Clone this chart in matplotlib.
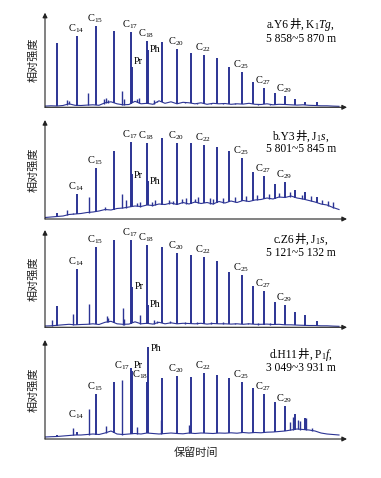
import numpy as np
import matplotlib
matplotlib.use("Agg")
import matplotlib.pyplot as plt

plt.rcParams['mathtext.fontset'] = 'custom'
plt.rcParams['mathtext.rm'] = 'Liberation Serif'
plt.rcParams['mathtext.it'] = 'Liberation Serif:italic'

W, H = 381, 478
col = '#2c3494'

# retention positions of the n-alkanes / isoprenoids (arbitrary time units)
peak_names = ['C13', 'C14', 'C15', 'C16', 'C17', 'Pr', 'C18', 'Ph', 'C19', 'C20', 'C21',
              'C22', 'C23', 'C24', 'C25', 'C26', 'C27', 'C28', 'C29', 'C30', 'C31', 'C32']
peak_rt = [12.3, 32.3, 50.7, 68.7, 85.7, 87.3, 101.7, 103.0, 117.0, 131.7, 146.0,
           159.0, 172.0, 184.3, 196.7, 207.7, 218.7, 229.7, 240.0, 250.0, 260.3, 271.7]

# peak heights (relative intensity) per sample
h_a = [64, 71.3, 81.3, 76.3, 75, 40, 66.7, 57, 65, 58.7, 54,
       52.3, 49, 40.3, 35, 25.3, 19, 14.3, 11.7, 8.3, 5.7, 5.3]
h_b = [5.7, 25, 51.3, 68, 77.3, 44.7, 75.7, 38.3, 81.3, 75.7, 75.7,
       74, 71.7, 68, 60.7, 47.3, 43, 35, 37.3, 29, 26.7, 22]
h_c = [21.3, 58.3, 80.7, 87.3, 87.3, 40.7, 82.3, 22.3, 80.7, 74, 72.3,
       70.7, 66.7, 55.7, 52.3, 41.3, 36.3, 25.7, 22.3, 15.7, 12.3, 6.3]
h_d = [4, 7.3, 44.7, 57.3, 70.7, 68, 57.3, 92.3, 60.7, 63.3, 62.3,
       65.7, 64, 61.3, 57.3, 50.7, 44.7, 37.3, 33.3, 25, 21.3, 7.3]

# unlabelled minor peaks (rt, height)
minor_a = [(22, 7), (24, 6), (42.7, 14), (59, 8), (61, 9), (63, 7), (76.7, 16), (79, 8),
           (92, 8), (94, 9), (109, 7), (112, 6), (125, 5), (140, 5), (152, 4.5), (166, 4),
           (178, 4), (190, 4), (200, 3.5), (213, 3.5), (225, 3.5)]
minor_b = [(22, 9), (27.7, 6), (43.7, 22.3), (60.3, 12), (77, 24.7), (81, 19), (91.7, 15.7),
           (95, 17), (107, 17), (110, 19), (124, 19), (128, 18), (137, 20), (141, 21),
           (150, 20), (153, 22), (165, 21), (168, 20), (178, 21), (190, 22), (201, 23),
           (212, 24), (224, 25), (234, 26), (245, 27), (256.7, 24), (266, 23), (276.7, 19),
           (283, 18), (288.3, 17.3)]
minor_c = [(6.7, 7.3), (27.7, 13), (43.7, 23.3), (61.7, 11.3), (63, 9), (77.7, 19), (79, 8),
           (95, 12.3), (109, 7), (112, 6), (125, 6), (140, 5.5), (152, 5), (166, 5), (178, 5),
           (190, 4.5), (203, 4.5), (213, 4), (225, 4)]
minor_d = [(27.7, 10.7), (43.7, 30), (61, 13.3), (77.3, 59), (91.7, 12), (116, 19), (144, 14),
           (245, 17.3), (247.7, 22.3), (253.3, 19), (255, 18), (261, 21.3), (266.7, 10.7)]

# baseline read every 6 time units
base_x = np.arange(0, 300, 6)
base_a = [1.2, 1.5, 1.3, 1.8, 3.5, 2.0, 1.8, 2.2, 2.5, 2.0, 4.5, 5.5, 3.5, 2.5, 2.8, 6.0, 3.5,
          4.0, 3.0, 6.5, 4.0, 5.5, 3.5, 5.0, 4.5, 3.5, 4.5, 3.0, 4.0, 3.5, 3.8, 3.0, 3.5, 3.2,
          4.0, 3.0, 2.8, 3.5, 2.5, 3.0, 2.8, 2.5, 2.2, 2.5, 2.0, 1.8, 1.5, 1.5, 1.2, 1.0]
base_b = [1.5, 2.0, 2.5, 3.0, 4.5, 5.0, 5.5, 6.5, 7.0, 8.0, 9.5, 9.0, 10.5, 11.0, 12.0, 13.0,
          12.5, 14.0, 13.5, 15.0, 14.5, 16.0, 14.5, 16.5, 15.0, 17.0, 15.5, 16.5, 15.0, 17.5,
          16.0, 18.0, 16.5, 18.5, 17.5, 19.0, 19.5, 21.0, 20.0, 22.0, 21.5, 23.0, 21.0, 20.0,
          18.5, 17.0, 15.0, 14.0, 11.5, 9.5]
base_c = [1.3, 1.5, 2.0, 2.5, 3.0, 2.5, 2.8, 3.0, 3.5, 2.8, 5.0, 6.0, 3.5, 3.0, 3.2, 5.5, 3.5,
          4.0, 3.2, 5.0, 3.5, 4.5, 3.5, 4.0, 3.8, 3.5, 4.0, 3.2, 3.8, 3.5, 3.5, 3.2, 3.5, 3.0,
          3.5, 3.0, 3.0, 3.2, 2.8, 3.0, 2.5, 2.5, 2.2, 2.0, 1.8, 1.8, 1.5, 1.5, 1.2, 1.0]
base_d = [2.0, 2.3, 2.5, 3.0, 3.5, 4.0, 4.0, 4.5, 5.0, 4.5, 6.0, 8.0, 5.0, 4.5, 5.0, 5.5, 5.0,
          6.0, 5.5, 5.0, 5.5, 6.0, 5.5, 5.2, 6.0, 5.5, 6.0, 5.8, 5.5, 6.0, 5.8, 6.2, 5.8, 6.5,
          6.0, 6.5, 6.2, 6.8, 7.0, 7.5, 8.0, 9.0, 10.0, 9.5, 9.0, 8.0, 6.0, 5.0, 4.5, 4.0]

labelled = ['C14', 'C15', 'C17', 'C18', 'C20', 'C22', 'C25', 'C27', 'C29', 'Pr', 'Ph']

info1 = [[('a.Y6', 'Liberation Serif'), ('井', 'Noto Sans CJK SC'), (', K$_1$$Tg$,', 'Liberation Serif')],
         [('b.Y3', 'Liberation Serif'), ('井', 'Noto Sans CJK SC'), (', J$_1$$s$,', 'Liberation Serif')],
         [('c.Z6', 'Liberation Serif'), ('井', 'Noto Sans CJK SC'), (', J$_1$$s$,', 'Liberation Serif')],
         [('d.H11', 'Liberation Serif'), ('井', 'Noto Sans CJK SC'), (', P$_1$$f$,', 'Liberation Serif')]]
info2 = ['5 858~5 870 m', '5 801~5 845 m', '5 121~5 132 m', '3 049~3 931 m']

panels = [
    dict(h=h_a, minor=minor_a, base=base_a, bot=107.3, top=12.7, t1=28, t2=42,
         special={'Pr': (88.3, 45.7, 'left', 'center'), 'Ph': (104.5, 58, 'left', 'center')}),
    dict(h=h_b, minor=minor_b, base=base_b, bot=219.0, top=120.0, t1=139.5, t2=152.5,
         special={'Pr': (88.8, 43, 'left', 'center'), 'Ph': (104.5, 38, 'left', 'center')}),
    dict(h=h_c, minor=minor_c, base=base_c, bot=327.3, top=230.0, t1=243, t2=256,
         special={'Pr': (89.5, 40.7, 'left', 'center'), 'Ph': (104.5, 23, 'left', 'center')}),
    dict(h=h_d, minor=minor_d, base=base_d, bot=439.0, top=340.0, t1=358, t2=371,
         special={'C14': (31, 24, 'center', 'center'), 'C17': (77, 73.5, 'center', 'center'),
                  'Pr': (88.5, 73.5, 'left', 'center'), 'C18': (95.3, 64, 'center', 'center'),
                  'Ph': (105.5, 90.7, 'left', 'center')}),
]

fig = plt.figure(figsize=(W / 100, H / 100), dpi=100)
renderer = fig.canvas.get_renderer()


def put_line(pieces, cx, y_px, size=8.3):
    texts = [fig.text(0, 1 - y_px / H, s, family=fam, fontsize=size, va='baseline', ha='left')
             for s, fam in pieces]
    widths = [t.get_window_extent(renderer).width for t in texts]
    x0 = cx - sum(widths) / 2
    for t, w in zip(texts, widths):
        t.set_x(x0 / W)
        x0 += w


for i, p in enumerate(panels):
    hgt = p['bot'] - p['top']
    ax = fig.add_axes([45 / W, 1 - p['bot'] / H, 302 / W, hgt / H])
    ax.set_xlim(0, 302)
    ax.set_ylim(0, hgt)
    for s in ax.spines.values():
        s.set_visible(False)
    ax.set_xticks([])
    ax.set_yticks([])
    ax.patch.set_alpha(0)

    ax.plot(base_x, p['base'], color=col, lw=0.8)
    mx = [m[0] for m in p['minor']]
    mh = [m[1] for m in p['minor']]
    # peaks rise from the baseline trace
    ax.vlines(mx, np.interp(mx, base_x, p['base']) - 0.3, mh, color=col, lw=1.0)
    ax.vlines(peak_rt, np.interp(peak_rt, base_x, p['base']) - 0.3, p['h'], color=col, lw=1.4)

    for name, x, y in zip(peak_names, peak_rt, p['h']):
        if name not in labelled:
            continue
        txt = name if name in ('Pr', 'Ph') else 'C$_{%s}$' % name[1:]
        if name in p['special']:
            lx, ly, ha, va = p['special'][name]
        else:
            lx, ly, ha, va = x - 0.8, y + 1.0, 'center', 'bottom'
        ax.text(lx, ly, txt, family='Liberation Serif', fontsize=7.5, ha=ha, va=va,
                clip_on=False)

    ax.annotate('', xy=(1, 0), xytext=(0, 0), xycoords='axes fraction',
                arrowprops=dict(arrowstyle='-|>', lw=0.8, color='#222222', mutation_scale=7,
                                shrinkA=0, shrinkB=0))
    ax.annotate('', xy=(0, 1), xytext=(0, 0), xycoords='axes fraction',
                arrowprops=dict(arrowstyle='-|>', lw=0.8, color='#222222', mutation_scale=7,
                                shrinkA=0, shrinkB=0))

    fig.text(33 / W, 1 - (p['bot'] + p['top']) / 2 / H, '相对强度', family='Noto Sans CJK SC',
             fontsize=8, rotation=90, ha='center', va='center', color='#222222')
    put_line(info1[i], 301, p['t1'])
    put_line([(info2[i], 'Liberation Serif')], 301, p['t2'])

fig.text(196 / W, 1 - 453 / H, '保留时间', family='Noto Sans CJK SC', fontsize=8,
         ha='center', va='center', color='#222222')

fig.savefig('out.png', dpi=100)
